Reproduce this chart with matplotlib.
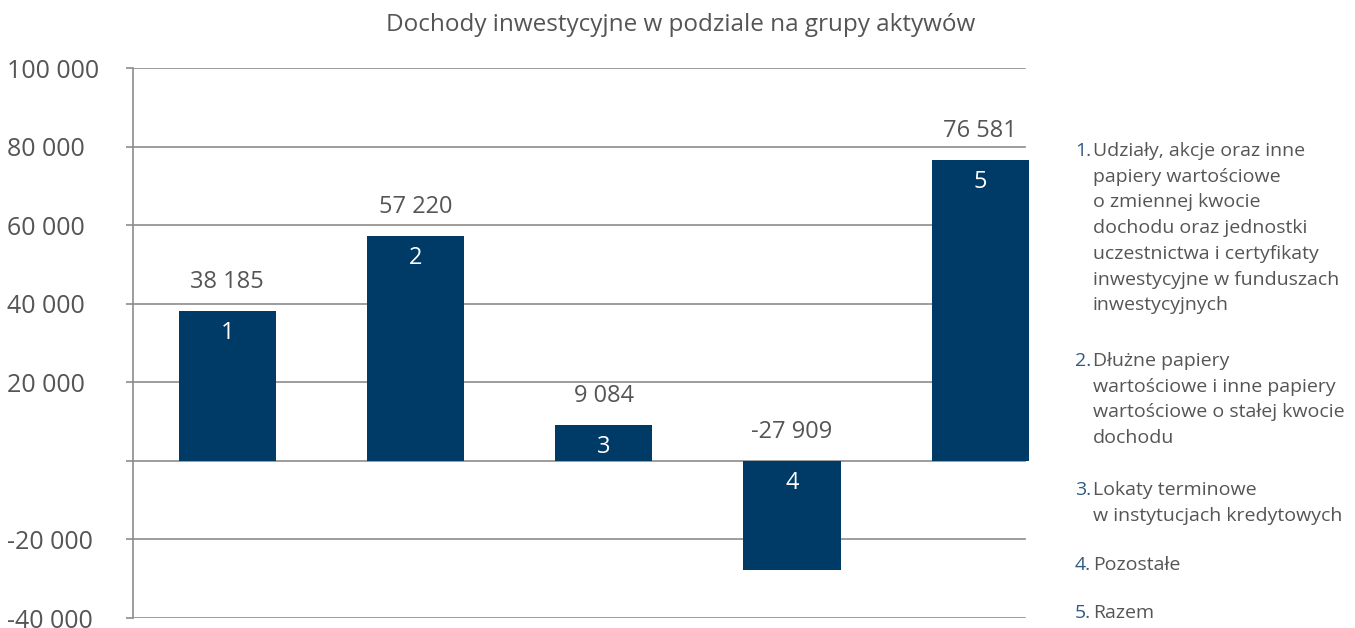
import matplotlib
matplotlib.use('Agg')
import matplotlib.pyplot as plt
import matplotlib.transforms as mtransforms

plt.rcParams['font.family'] = ['Open Sans', 'DejaVu Sans']

# dane
categories = ['1', '2', '3', '4', '5']
values = [38185, 57220, 9084, -27909, 76581]
value_labels = ['38 185', '57 220', '9 084', '-27 909', '76 581']
yticks = [-40000, -20000, 0, 20000, 40000, 60000, 80000, 100000]
ytick_labels = ['-40 000', '-20 000', '', '20 000', '40 000', '60 000', '80 000', '100 000']
legend_nums = ['1.', '2.', '3.', '4.', '5.']
legend_texts = [
    'Udziały, akcje oraz inne\npapiery wartościowe\no zmiennej kwocie\ndochodu oraz jednostki\nuczestnictwa i certyfikaty\ninwestycyjne w funduszach\ninwestycyjnych',
    'Dłużne papiery\nwartościowe i inne papiery\nwartościowe o stałej kwocie\ndochodu',
    'Lokaty terminowe\nw instytucjach kredytowych',
    'Pozostałe',
    'Razem',
]
legend_y = [150, 360, 489, 564, 612]  # pozycje w pikselach od góry

navy = '#003a66'
grey_txt = '#555555'
grid_col = '#8c8c8c'

W, H = 1355, 628
fig = plt.figure(figsize=(W / 100, H / 100), dpi=100)
fig.patch.set_facecolor('white')
ax = fig.add_axes([133 / W, 1 - 618 / H, (1074.5 - 133) / W, (618 - 68) / H])

x = range(len(categories))
ax.bar(x, values, width=0.516, color=navy, zorder=3)
ax.set_xlim(-0.5, 4.5)
ax.set_ylim(-40000, 100000)

# linie siatki (kończą się przed ostatnim słupkiem)
gx = (1025 - 133) / (1074.5 - 133)
for t in yticks:
    ax.axhline(t, xmin=0, xmax=gx, color=grid_col, lw=1.2, zorder=1)

for s in ['top', 'right', 'bottom']:
    ax.spines[s].set_visible(False)
ax.spines['left'].set_color(grid_col)
ax.spines['left'].set_linewidth(1.2)
ax.set_xticks([])
ax.set_yticks(yticks)
ax.set_yticklabels(ytick_labels)
ax.tick_params(axis='y', length=5, width=1.2, color=grid_col, labelsize=18,
               labelcolor=grey_txt, pad=86)
for lab in ax.get_yticklabels():
    lab.set_ha('left')
    lab.set_va('center_baseline')

px = mtransforms.offset_copy
for i, v in enumerate(values):
    top = max(v, 0)
    base = v if v > 0 else 0
    ax.text(i, top, value_labels[i], ha='center', va='bottom', fontsize=17,
            color=grey_txt, transform=px(ax.transData, fig=fig, y=17, units='dots'))
    ax.text(i, base, categories[i], ha='center', va='top', fontsize=17,
            color='white', zorder=4,
            transform=px(ax.transData, fig=fig, y=-10, units='dots'))

fig.text(681 / W, 1 - 25 / H, 'Dochody inwestycyjne w podziale na grupy aktywów',
         ha='center', va='center', fontsize=17.5, color=grey_txt)

for num, txt, yp in zip(legend_nums, legend_texts, legend_y):
    fig.text(1075 / W, 1 - (yp - 8) / H, num, ha='left', va='top',
             fontsize=14, color='#2f5a82')
    fig.text(1093 / W, 1 - (yp - 8) / H, txt, ha='left', va='top',
             fontsize=14, color=grey_txt, linespacing=1.55)

fig.savefig('out.png', dpi=100)
